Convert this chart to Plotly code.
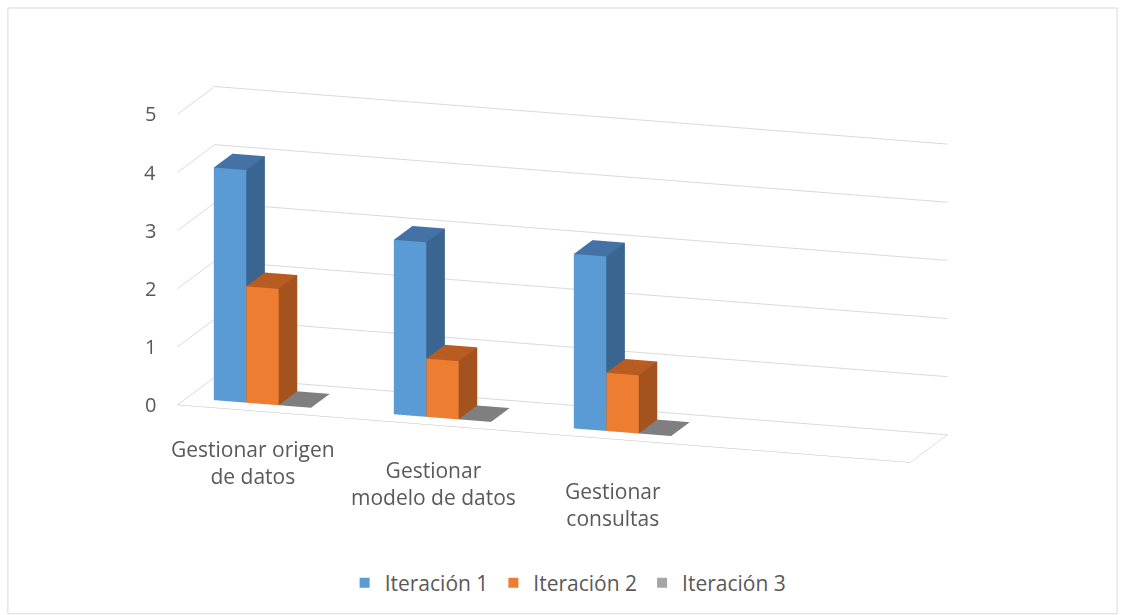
import math
import plotly.graph_objects as go

categories = ["Gestionar origen<br>de datos", "Gestionar<br>modelo de datos", "Gestionar<br>consultas"]
category_pos = [0, 1, 2]
series_names = ["Iteración 1", "Iteración 2", "Iteración 3"]
iter1 = [4, 3, 3]
iter2 = [2, 1, 1]
iter3 = [0, 0, 0]
z_ticks = [0, 1, 2, 3, 4, 5]

front_colors = ["#5B9BD5", "#ED7D31", "#A5A5A5"]
side_colors = ["#3A6590", "#A4521E", "#6E6E6E"]
top_colors = ["#4472A6", "#B85C22", "#7F7F7F"]

bar_w = 0.18
y0b, y1b = 0.25, 0.75
x_min, x_max = -0.42, 3.65


def box(x0, x1, y0, y1, z0, z1, cf, cs, ct):
    xs = [x0, x1, x1, x0, x0, x1, x1, x0]
    ys = [y0, y0, y1, y1, y0, y0, y1, y1]
    zs = [z0, z0, z0, z0, z1, z1, z1, z1]
    faces = [
        ((0, 1, 5), cf), ((0, 5, 4), cf),      # front
        ((3, 2, 6), cs), ((3, 6, 7), cs),      # back
        ((0, 3, 7), cs), ((0, 7, 4), cs),      # left
        ((1, 2, 6), cs), ((1, 6, 5), cs),      # right
        ((4, 5, 6), ct), ((4, 6, 7), ct),      # top
        ((0, 1, 2), ct), ((0, 2, 3), ct),      # bottom
    ]
    return xs, ys, zs, faces


fig = go.Figure()
all_series = [iter1, iter2, iter3]
for s, vals in enumerate(all_series):
    X, Y, Z, I, J, K, FC = [], [], [], [], [], [], []
    for c, v in enumerate(vals):
        x0 = category_pos[c] - 1.5 * bar_w + s * bar_w
        xs, ys, zs, faces = box(x0, x0 + bar_w, y0b, y1b, 0, v,
                                front_colors[s], side_colors[s], top_colors[s])
        base = len(X)
        X += xs; Y += ys; Z += zs
        for (a, b, d), col in faces:
            I.append(base + a); J.append(base + b); K.append(base + d)
            FC.append(col)
    fig.add_trace(go.Mesh3d(x=X, y=Y, z=Z, i=I, j=J, k=K, facecolor=FC,
                            flatshading=True, showlegend=False, hoverinfo="skip",
                            lighting=dict(ambient=1, diffuse=0, specular=0, roughness=1, fresnel=0)))
    fig.add_trace(go.Scatter3d(x=[None], y=[None], z=[None], mode="markers",
                               name=series_names[s],
                               marker=dict(symbol="square", size=10, color=front_colors[s])))

az = math.radians(18)
el = math.radians(14)
R = 1.77
eye = dict(x=R * math.sin(az) * math.cos(el), y=-R * math.cos(az) * math.cos(el), z=R * math.sin(el))

font_color = "#595959"
annotations = []
for c, label in zip(category_pos, categories):
    annotations.append(dict(x=c, y=0, z=0, text=label, showarrow=False, xanchor="center", yanchor="top",
                            yshift=-22 - 7 * c, align="center", font=dict(size=21, color=font_color)))
for t in z_ticks:
    annotations.append(dict(x=x_min, y=0, z=t, text=str(t), showarrow=False, xanchor="right", yanchor="middle",
                            xshift=-20, font=dict(size=20, color=font_color)))

fig.update_layout(
    width=1125, height=615,
    margin=dict(l=0, r=0, t=0, b=0),
    paper_bgcolor="white",
    font=dict(family="Open Sans", color=font_color, size=20),
    scene=dict(
        domain=dict(x=[0.05, 0.95], y=[0.119, 0.989]),
        xaxis=dict(range=[x_min, x_max], showticklabels=False,
                   showgrid=False, showbackground=False, zeroline=False,
                   showline=True, linecolor="#BFBFBF", title=dict(text=""), showspikes=False),
        yaxis=dict(range=[0, 1], showticklabels=False, showgrid=False, showbackground=False,
                   zeroline=False, showline=True, linecolor="#BFBFBF", title=dict(text=""), showspikes=False),
        zaxis=dict(range=[0, 5], tickvals=z_ticks, showticklabels=False, showgrid=True,
                   gridcolor="#D9D9D9", gridwidth=2,
                   showbackground=False, zeroline=False, showline=False, title=dict(text=""),
                   showspikes=False),
        aspectmode="manual",
        aspectratio=dict(x=2.88, y=0.45, z=1.12),
        camera=dict(eye=eye, center=dict(x=0, y=0, z=0),
                    up=dict(x=0, y=0, z=1), projection=dict(type="orthographic")),
        annotations=annotations,
    ),
    legend=dict(orientation="h", x=0.505, xanchor="center", y=0.052, yanchor="middle",
                font=dict(size=21, color=font_color)),
    shapes=[dict(type="rect", xref="paper", yref="paper", x0=0.007, x1=0.993, y0=0.002, y1=0.987,
                 line=dict(color="#D9D9D9", width=1))],
)

fig.write_html("out.html")
